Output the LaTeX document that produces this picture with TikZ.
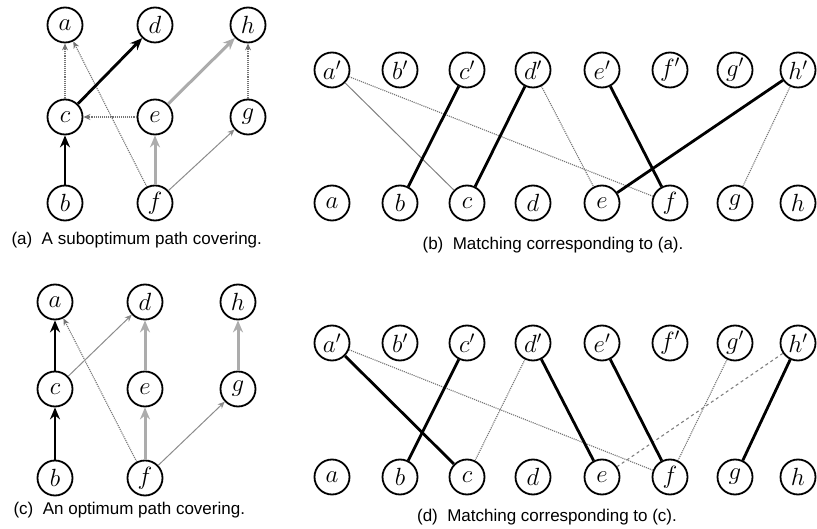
\documentclass[tikz,border=0pt]{standalone}
\usepackage{fontspec}
\newfontfamily\capfont{Liberation Sans}
\usetikzlibrary{arrows.meta}

\tikzset{
  vtx/.style={circle,draw,line width=1.8pt,minimum size=35pt,inner sep=0pt,
    font=\fontsize{23}{25}\selectfont},
  blackarc/.style={black,line width=2.8pt,-{Stealth[length=12pt,width=10pt]}},
  grayarc/.style={gray!65,line width=3pt,-{Stealth[length=12pt,width=10pt]}},
  dotarc/.style={black!55,line width=1.1pt,densely dotted,-{Stealth[length=7pt,width=6pt]}},
  thinarc/.style={black!45,line width=1pt,-{Stealth[length=7pt,width=6pt]}},
  match/.style={black,line width=2.8pt},
  dotmatch/.style={black!55,line width=1.1pt,densely dotted},
  thinmatch/.style={black!50,line width=1pt},
  dashmatch/.style={black!50,line width=1.1pt,dashed},
  caption/.style={font=\capfont\fontsize{17}{19}\selectfont}
}

\begin{document}
\begin{tikzpicture}[x=1pt,y=-1pt]
  \useasboundingbox (0,0) rectangle (817,529);

  % (a) suboptimum covering
  \node[vtx] (p1a) at (65,25)   {$a$};
  \node[vtx] (p1d) at (155,25)  {$d$};
  \node[vtx] (p1h) at (248,25)  {$h$};
  \node[vtx] (p1c) at (65,117)  {$c$};
  \node[vtx] (p1e) at (155,117) {$e$};
  \node[vtx] (p1g) at (248,117) {$g$};
  \node[vtx] (p1b) at (65,203)  {$b$};
  \node[vtx] (p1f) at (155,203) {$f$};
  \draw[dotarc] (p1c) -- (p1a);
  \draw[dotarc] (p1f) -- (p1a);
  \draw[dotarc] (p1e) -- (p1c);
  \draw[dotarc] (p1g) -- (p1h);
  \draw[blackarc] (p1b) -- (p1c);
  \draw[blackarc] (p1c) -- (p1d);
  \draw[grayarc] (p1f) -- (p1e);
  \draw[grayarc] (p1e) -- (p1h);
  \draw[thinarc] (p1f) -- (p1g);
  \node[caption,anchor=west] (cap1) at (8,240) {(a)\ \ A suboptimum path covering.};

  % (b) matching for (a)
  \foreach \v/\x in {a/332,b/400,c/467,d/533,e/602,f/670,g/735,h/798} {
    \node[vtx] (t2\v) at (\x,70)  {$\v'$};
    \node[vtx] (u2\v) at (\x,203) {$\v$};
  }
  \draw[thinmatch] (t2a) -- (u2c);
  \draw[dotmatch] (t2a) -- (u2f);
  \draw[dotmatch] (t2d) -- (u2e);
  \draw[dotmatch] (t2h) -- (u2g);
  \draw[match] (t2c) -- (u2b);
  \draw[match] (t2d) -- (u2c);
  \draw[match] (t2e) -- (u2f);
  \draw[match] (t2h) -- (u2e);
  \node[caption] (cap2) at (553,245) {(b)\ \ Matching corresponding to (a).};

  % (c) optimum covering
  \node[vtx] (p3a) at (55,302)  {$a$};
  \node[vtx] (p3d) at (145,302) {$d$};
  \node[vtx] (p3h) at (238,302) {$h$};
  \node[vtx] (p3c) at (55,389)  {$c$};
  \node[vtx] (p3e) at (145,389) {$e$};
  \node[vtx] (p3g) at (238,389) {$g$};
  \node[vtx] (p3b) at (55,478)  {$b$};
  \node[vtx] (p3f) at (145,478) {$f$};
  \draw[dotarc] (p3f) -- (p3a);
  \draw[thinarc] (p3c) -- (p3d);
  \draw[thinarc] (p3f) -- (p3g);
  \draw[blackarc] (p3b) -- (p3c);
  \draw[blackarc] (p3c) -- (p3a);
  \draw[grayarc] (p3f) -- (p3e);
  \draw[grayarc] (p3e) -- (p3d);
  \draw[grayarc] (p3g) -- (p3h);
  \node[caption,anchor=west] (cap3) at (10,510) {(c)\ \ An optimum path covering.};

  % (d) matching for (c)
  \foreach \v/\x in {a/332,b/400,c/467,d/533,e/602,f/670,g/735,h/798} {
    \node[vtx] (t4\v) at (\x,343) {$\v'$};
    \node[vtx] (u4\v) at (\x,477) {$\v$};
  }
  \draw[dotmatch] (t4a) -- (u4f);
  \draw[dotmatch] (t4d) -- (u4c);
  \draw[dotmatch] (t4g) -- (u4f);
  \draw[dashmatch] (t4h) -- (u4e);
  \draw[match] (t4a) -- (u4c);
  \draw[match] (t4c) -- (u4b);
  \draw[match] (t4d) -- (u4e);
  \draw[match] (t4e) -- (u4f);
  \draw[match] (t4h) -- (u4g);
  \node[caption] (cap4) at (547,517) {(d)\ \ Matching corresponding to (c).};
\end{tikzpicture}
\end{document}
